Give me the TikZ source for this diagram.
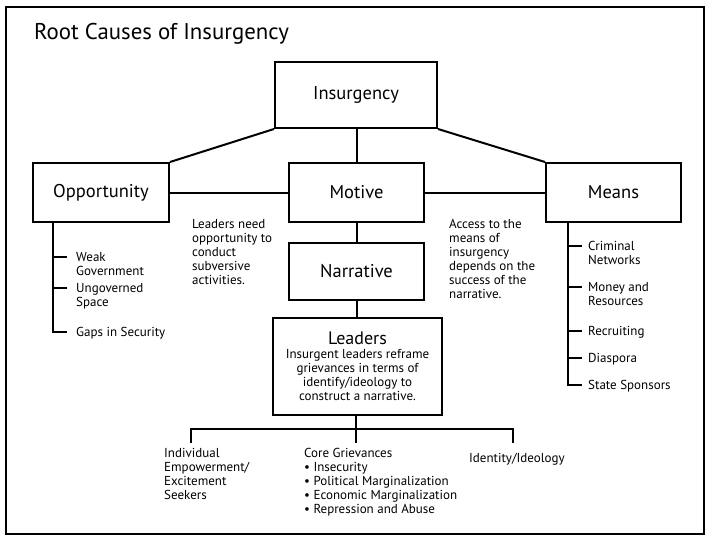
\documentclass[tikz,border=0pt]{standalone}
\usepackage{fontspec}
\setmainfont{PT Sans}
\begin{document}
\begin{tikzpicture}[x=1pt, y=-1pt,
    box/.style = {draw, line width=2pt, inner sep=2pt, font=\fontsize{18.5}{21}\selectfont},
    link/.style = {line width=2pt},
    note/.style = {anchor=north west, align=left, inner sep=0pt, font=\fontsize{13}{14}\selectfont}]
    \useasboundingbox (0,0) rectangle (708,538);
    \draw [line width=2.5pt] (6,7) rectangle (704,534);
    \node [anchor=base west, inner sep=0pt, font=\fontsize{22.8}{26}\selectfont] (title) at (34,39) {Root Causes of Insurgency};

    \node [box, minimum width=162, minimum height=66] (ins) at (356,95) {Insurgency};
    \node [box, minimum width=136, minimum height=59] (opp) at (101,192.5) {Opportunity};
    \node [box, minimum width=135, minimum height=59] (mot) at (356.5,192.5) {Motive};
    \node [box, minimum width=135, minimum height=59] (mea) at (613.5,192.5) {Means};
    \node [box, minimum width=135, minimum height=57] (nar) at (356.5,271.5) {Narrative};
    \node [box, minimum width=169, minimum height=97, align=center, font=\fontsize{13}{14}\selectfont] (lea) at (357.5,366.5)
        {{\fontsize{18}{20}\selectfont Leaders}\\[0pt] Insurgent leaders reframe\\ grievances in terms of\\ identify/ideology to\\ construct a narrative.};

    \draw [link] (ins.south west) -- (opp.north east);
    \draw [link] (ins.south east) -- (mea.north west);
    \draw [link] (ins.south -| mot.north) -- (mot.north);
    \draw [link] (opp.east) -- (mot.west);
    \draw [link] (mot.east) -- (mea.west);
    \draw [link] (mot.south) -- (nar.north);
    \draw [link] (nar.south) -- (nar.south |- lea.north);

    \node [note] (oppnote) at (192,219) {Leaders need\\ opportunity to\\ conduct\\ subversive\\ activities.};
    \node [note] (meanote) at (449,219) {Access to the\\ means of\\ insurgency\\ depends on the\\ success of the\\ narrative.};

    % opportunity list
    \coordinate (oa) at (53,257);
    \coordinate (ob) at (53,288);
    \coordinate (oc) at (53,332);
    \draw [link] (opp.south -| oc) -- (oc) -- ++(14,0);
    \draw [link] (oa) -- ++(14,0);
    \draw [link] (ob) -- ++(14,0);
    \node [note] (weak) at (76,252.5) {Weak\\ Government};
    \node [note] (space) at (76,283.5) {Ungoverned\\ Space};
    \node [note] (gaps) at (76,327.5) {Gaps in Security};

    % means list
    \coordinate (ma) at (568,246);
    \coordinate (mb) at (568,287);
    \coordinate (mc) at (568,331);
    \coordinate (md) at (568,358);
    \coordinate (me) at (568,385);
    \draw [link] (mea.south -| me) -- (me) -- ++(14,0);
    \draw [link] (ma) -- ++(14,0);
    \draw [link] (mb) -- ++(14,0);
    \draw [link] (mc) -- ++(14,0);
    \draw [link] (md) -- ++(14,0);
    \node [note] (crim) at (588,241.5) {Criminal\\ Networks};
    \node [note] (money) at (588,282.5) {Money and\\ Resources};
    \node [note] (recr) at (588,326.5) {Recruiting};
    \node [note] (dias) at (588,353.5) {Diaspora};
    \node [note] (spons) at (588,380.5) {State Sponsors};

    % root causes below the leaders
    \coordinate (da) at (191,443);
    \coordinate (db) at (356,443);
    \coordinate (dc) at (513,443);
    \coordinate (bar) at (513,429);
    \draw [link] (da) |- (bar) -- (dc);
    \draw [link] (lea.south -| db) -- (db);
    \node [note] (indiv) at (164,448) {Individual\\ Empowerment/\\ Excitement\\ Seekers};
    \node [note] (core) at (304,448) {Core Grievances\\ • Insecurity\\ • Political Marginalization\\ • Economic Marginalization\\ • Repression and Abuse};
    \node [note] (ident) at (469,453) {Identity/Ideology};
\end{tikzpicture}
\end{document}
